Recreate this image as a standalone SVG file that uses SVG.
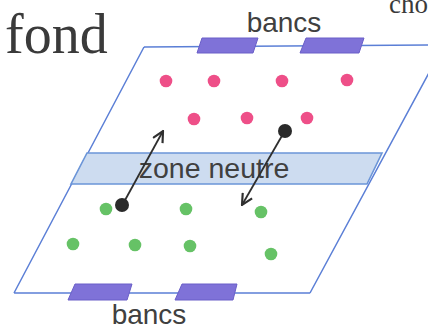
<svg xmlns="http://www.w3.org/2000/svg" width="428" height="329" viewBox="0 0 428 329">
<defs>
<style>
.frame{fill:none;stroke:#5b7fd6;stroke-width:1.5}
.bench{fill:#7f72d8;stroke:#6a5fc8;stroke-width:1}
.zone{fill:#cddcf0;stroke:#6b95d8;stroke-width:1.6}
.pink{fill:#ee4f88}
.green{fill:#66c266}
.black{fill:#2a2a2a}
.arrow{stroke:#2f2f2f;stroke-width:1.8;fill:none;marker-end:url(#ah)}
.sans{font-family:"Liberation Sans",Arial,sans-serif;fill:#404040}
.serif{font-family:"Liberation Serif","Times New Roman",serif;fill:#3a3a3a}
</style>
<marker id="ah" viewBox="0 0 12 12" refX="11" refY="6" markerWidth="13" markerHeight="13" markerUnits="userSpaceOnUse" orient="auto">
<path d="M1,1 L11,6 L1,11" fill="none" stroke="#2f2f2f" stroke-width="2"/>
</marker>
</defs>
<rect width="428" height="329" fill="#ffffff"/>
<g id="title">
<text class="serif" x="5" y="53" font-size="56">fond</text>
<text class="serif" x="389" y="13" font-size="27" fill="#505050">cho</text>
</g>
<g id="terrain">
<path class="frame" d="M144,47 L444,45 M14,293 L310,293 M144,47 L14,293 M310,293 L444,45"/>
</g>
<g id="zone-neutre">
<path class="zone" d="M87,153 L382,153 L367,184 L71,184 Z"/>
<text class="sans" x="214" y="178" font-size="28.5" text-anchor="middle">zone neutre</text>
</g>
<g id="bancs-haut">
<path class="bench" d="M202,38 L258,38 L253,53 L197,53 Z"/>
<path class="bench" d="M306,38 L364,38 L359,53 L300,53 Z"/>
<text class="sans" x="284" y="32" font-size="28" text-anchor="middle">bancs</text>
</g>
<g id="bancs-bas">
<path class="bench" d="M75,284 L132,284 L127,300 L68,300 Z"/>
<path class="bench" d="M182,284 L237,284 L233,300 L175,300 Z"/>
<text class="sans" x="149" y="324" font-size="28" text-anchor="middle">bancs</text>
</g>
<g id="joueurs-roses">
<circle class="pink" cx="166" cy="81" r="6.3"/>
<circle class="pink" cx="214" cy="81" r="6.3"/>
<circle class="pink" cx="282" cy="81" r="6.3"/>
<circle class="pink" cx="347" cy="80" r="6.3"/>
<circle class="pink" cx="194" cy="119" r="6.3"/>
<circle class="pink" cx="247" cy="118" r="6.3"/>
<circle class="pink" cx="307" cy="118" r="6.3"/>
</g>
<g id="joueurs-verts">
<circle class="green" cx="106" cy="209" r="6.3"/>
<circle class="green" cx="186" cy="209" r="6.3"/>
<circle class="green" cx="261" cy="212" r="6.3"/>
<circle class="green" cx="73" cy="244" r="6.3"/>
<circle class="green" cx="135" cy="245" r="6.3"/>
<circle class="green" cx="190" cy="246" r="6.3"/>
<circle class="green" cx="271" cy="254" r="6.3"/>
</g>
<g id="connecteurs">
<line class="arrow" x1="124" y1="202" x2="163" y2="131"/>
<line class="arrow" x1="283" y1="134" x2="242" y2="205"/>
</g>
<g id="joueurs-noirs">
<circle class="black" cx="122" cy="205" r="7"/>
<circle class="black" cx="285" cy="131" r="7"/>
</g>
</svg>
